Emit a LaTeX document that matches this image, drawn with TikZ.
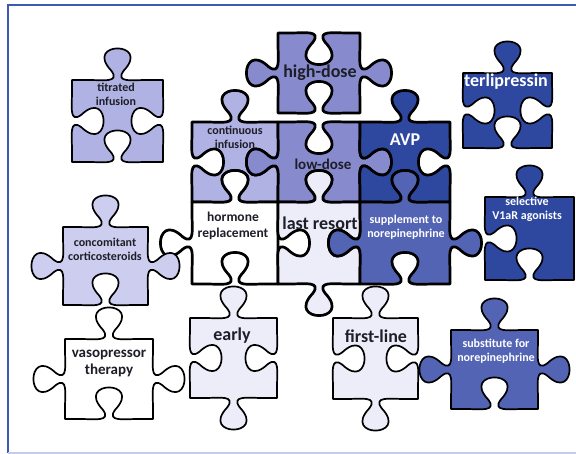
\documentclass[tikz,border=0pt]{standalone}
\usepackage{fontspec}
\setmainfont{Carlito}
\definecolor{lavA}{RGB}{176,178,228}
\definecolor{lavB}{RGB}{136,138,206}
\definecolor{navy}{RGB}{46,71,159}
\definecolor{midblue}{RGB}{84,100,180}
\definecolor{pale}{RGB}{237,237,250}
\definecolor{lavC}{RGB}{205,205,239}
\definecolor{ink}{RGB}{30,30,40}
\definecolor{framec}{RGB}{60,90,175}
\definecolor{framel}{RGB}{196,204,238}
\def\tabT{78}
\def\kw{0.44}
\def\kh{0.50}
% #1 xa, #2 ya, #3 xb, #4 yb, #5 top, #6 right, #7 bottom, #8 left (1 tab, -1 blank, 0 flat), #9 style
\newcommand\pz[9]{%
 \pgfmathsetmacro\pxm{(#1+#3)/2}\pgfmathsetmacro\pym{(#2+#4)/2}%
 \ifnum#5=0 \def\sT{-- (#3,#2)}\else
 \def\sT{-- ({\pxm-0.36*\tabT},#2)
   .. controls ({\pxm-0.2*\tabT},#2) and ({\pxm+0.04*\tabT},{#2+(#5)*0.04*\tabT}) .. ({\pxm-0.08*\tabT},{#2-(#5)*0.12*\tabT})
   .. controls ({\pxm-\kw*\tabT},{#2-(#5)*\kh*\tabT}) and ({\pxm+\kw*\tabT},{#2-(#5)*\kh*\tabT}) .. ({\pxm+0.08*\tabT},{#2-(#5)*0.12*\tabT})
   .. controls ({\pxm-0.04*\tabT},{#2+(#5)*0.04*\tabT}) and ({\pxm+0.2*\tabT},#2) .. ({\pxm+0.36*\tabT},#2)
   -- (#3,#2)}\fi
 \ifnum#6=0 \def\sR{-- (#3,#4)}\else
 \def\sR{-- (#3,{\pym-0.36*\tabT})
   .. controls (#3,{\pym-0.2*\tabT}) and ({#3-(#6)*0.04*\tabT},{\pym+0.04*\tabT}) .. ({#3+(#6)*0.12*\tabT},{\pym-0.08*\tabT})
   .. controls ({#3+(#6)*\kh*\tabT},{\pym-\kw*\tabT}) and ({#3+(#6)*\kh*\tabT},{\pym+\kw*\tabT}) .. ({#3+(#6)*0.12*\tabT},{\pym+0.08*\tabT})
   .. controls ({#3-(#6)*0.04*\tabT},{\pym-0.04*\tabT}) and (#3,{\pym+0.2*\tabT}) .. (#3,{\pym+0.36*\tabT})
   -- (#3,#4)}\fi
 \ifnum#7=0 \def\sB{-- (#1,#4)}\else
 \def\sB{-- ({\pxm+0.36*\tabT},#4)
   .. controls ({\pxm+0.2*\tabT},#4) and ({\pxm-0.04*\tabT},{#4-(#7)*0.04*\tabT}) .. ({\pxm+0.08*\tabT},{#4+(#7)*0.12*\tabT})
   .. controls ({\pxm+\kw*\tabT},{#4+(#7)*\kh*\tabT}) and ({\pxm-\kw*\tabT},{#4+(#7)*\kh*\tabT}) .. ({\pxm-0.08*\tabT},{#4+(#7)*0.12*\tabT})
   .. controls ({\pxm+0.04*\tabT},{#4-(#7)*0.04*\tabT}) and ({\pxm-0.2*\tabT},#4) .. ({\pxm-0.36*\tabT},#4)
   -- (#1,#4)}\fi
 \ifnum#8=0 \def\sL{-- cycle}\else
 \def\sL{-- (#1,{\pym+0.36*\tabT})
   .. controls (#1,{\pym+0.2*\tabT}) and ({#1+(#8)*0.04*\tabT},{\pym-0.04*\tabT}) .. ({#1-(#8)*0.12*\tabT},{\pym+0.08*\tabT})
   .. controls ({#1-(#8)*\kh*\tabT},{\pym+\kw*\tabT}) and ({#1-(#8)*\kh*\tabT},{\pym-\kw*\tabT}) .. ({#1-(#8)*0.12*\tabT},{\pym-0.08*\tabT})
   .. controls ({#1+(#8)*0.04*\tabT},{\pym+0.04*\tabT}) and (#1,{\pym-0.2*\tabT}) .. (#1,{\pym-0.36*\tabT})
   -- cycle}\fi
 \draw[#9] (#1,#2) \sT \sR \sB \sL;
}
\begin{document}
\begin{tikzpicture}[x=1pt,y=-1pt,
  bigpc/.style={line width=2.7pt,line join=round,draw=black},
  smallpc/.style={line width=1.7pt,line join=round,draw=black},
  lbl/.style={text=ink,align=center,inner sep=0pt},
  wlbl/.style={text=white,align=center,inner sep=0pt},
  fbig/.style={font={\fontsize{18}{20}\selectfont\bfseries}},
  fmid/.style={font={\fontsize{15}{17}\selectfont\bfseries}},
  fhor/.style={font={\fontsize{13.5}{16.5}\selectfont\bfseries}},
  fsmall/.style={font={\fontsize{12}{14}\selectfont\bfseries}}]
\useasboundingbox (0,0) rectangle (576,454);
\fill[white] (0,0) rectangle (576,454);
\draw[framec,line width=2pt] (577,5) -- (8,5) -- (8,453);
\draw[framel,line width=1.5pt] (8,453) -- (577,453);

% central cluster
\pz{278}{33}{360}{113}{-1}{1}{-1}{1}{bigpc,fill=lavB}
\pz{192}{122}{278}{202}{1}{-1}{-1}{-1}{bigpc,fill=lavA}
\pz{278}{122}{360}{202}{-1}{1}{-1}{1}{bigpc,fill=lavB}
\pz{360}{122}{450}{202}{1}{-1}{-1}{-1}{bigpc,fill=navy}
\pz{192}{202}{278}{284}{1}{0}{-1}{1}{bigpc,fill=white}
\pz{278}{202}{360}{284}{1}{-1}{1}{-1}{bigpc,fill=pale}
\pz{360}{202}{450}{284}{1}{1}{-1}{1}{bigpc,fill=midblue}

% separate pieces
\pz{72}{80}{163}{162}{1}{-1}{-1}{-1}{smallpc,fill=lavA}
\pz{463}{73}{552}{148}{1}{-1}{-1}{-1}{smallpc,fill=navy}
\pz{485}{197}{574}{280}{1}{0}{-1}{-1}{smallpc,fill=navy}
\pz{63}{227}{148}{305}{1}{1}{-1}{1}{smallpc,fill=lavC}
\pz{65}{339}{153}{419}{1}{1}{-1}{1}{smallpc,fill=white}
\pz{190}{318}{277}{398}{1}{-1}{1}{-1}{smallpc,fill=pale}
\pz{333}{318}{418}{399}{1}{-1}{1}{-1}{smallpc,fill=pale}
\pz{451}{330}{538}{409}{1}{1}{-1}{1}{smallpc,fill=midblue}

% labels
\node[lbl,fsmall] (titr) at (116,94) {titrated\\infusion};
\node[lbl,fbig] (high) at (320,73) {high-dose};
\node[lbl,fsmall] (cont) at (235,137) {continuous\\infusion};
\node[lbl,fmid] (low) at (323,164) {low-dose};
\node[wlbl,fbig] (avp) at (405,140) {AVP};
\node[wlbl,fbig] (terl) at (506,82) {terlipressin};
\node[wlbl,fsmall] (sel) at (527,209) {selective\\V1aR agonists};
\node[lbl,fhor] (horm) at (233,226) {hormone\\replacement};
\node[lbl,fbig] (last) at (320,223) {last resort};
\node[wlbl,fsmall] (supp) at (406,227) {supplement to\\norepinephrine};
\node[lbl,fsmall] (conc) at (105,249) {concomitant\\corticosteroids};
\node[lbl,fmid] (vaso) at (109,363) {vasopressor\\therapy};
\node[lbl,fbig] (early) at (232,336) {early};
\node[lbl,fbig] (first) at (376,336) {first-line};
\node[wlbl,fsmall] (subs) at (496,351) {substitute for\\norepinephrine};
\end{tikzpicture}
\end{document}
